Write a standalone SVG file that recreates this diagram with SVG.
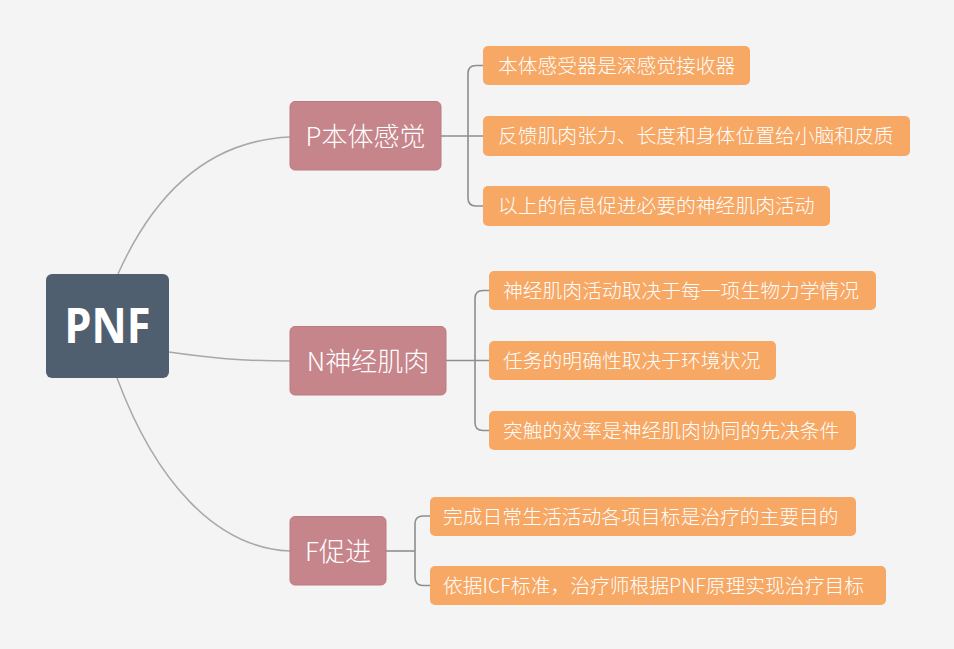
<svg xmlns="http://www.w3.org/2000/svg" width="954" height="649" viewBox="0 0 954 649">
<style>
.bg{fill:#f4f4f4}
.root{fill:#4f5f70}
.main{fill:#c6858b;stroke:#bc7a81;stroke-width:1}
.leaf{fill:#f6a864}
.t{font-family:"Noto Sans CJK SC","Noto Sans",sans-serif;fill:#ffffff;font-weight:300}
.tm{font-size:26px;text-anchor:middle}
.tl{font-size:19.8px}
.curve{fill:none;stroke:#a8a8a8;stroke-width:1.5}
.br{fill:none;stroke:#8e8e8e;stroke-width:1.6}
</style>
<rect class="bg" x="0" y="0" width="954" height="649"/>
<g id="connectors">
<path class="curve" d="M118,274 C160,180 220,140 290,137"/>
<path class="curve" d="M169,352 C210,358 240,361 290,361"/>
<path class="curve" d="M117,378 C155,480 215,548 290,551"/>
<path class="br" d="M441,136 H483"/>
<path class="br" d="M483,65.5 H476 Q468,65.5 468,73.5 V198 Q468,206 476,206 H483"/>
<path class="br" d="M446,360.5 H489"/>
<path class="br" d="M489,290.5 H483 Q475,290.5 475,298.5 V422.5 Q475,430.5 483,430.5 H489"/>
<path class="br" d="M386,551 H415"/>
<path class="br" d="M430,516 H423 Q415,516 415,524 V577 Q415,585.5 423,585.5 H430"/>
</g>
<g id="root">
<rect class="root" x="46" y="274" width="123" height="104" rx="6"/>
<text x="107.5" y="343" font-family="'Noto Sans','DejaVu Sans',sans-serif" font-weight="bold" font-size="48" fill="#ffffff" text-anchor="middle" textLength="86" lengthAdjust="spacingAndGlyphs">PNF</text>
</g>
<g id="p">
<rect class="main" x="290" y="101.5" width="151" height="68.5" rx="5"/>
<text class="t tm" x="365.5" y="145.5">P本体感觉</text>
</g>
<g id="p1"><rect class="leaf" x="483" y="46" width="267" height="39" rx="5"/><text class="t tl" x="498" y="72.5">本体感受器是深感觉接收器</text></g>
<g id="p2"><rect class="leaf" x="483" y="116" width="427" height="40" rx="5"/><text class="t tl" x="498" y="143">反馈肌肉张力、长度和身体位置给小脑和皮质</text></g>
<g id="p3"><rect class="leaf" x="483" y="186" width="347" height="40" rx="5"/><text class="t tl" x="498" y="213">以上的信息促进必要的神经肌肉活动</text></g>
<g id="n">
<rect class="main" x="290" y="326.5" width="156" height="68.5" rx="5"/>
<text class="t tm" x="368" y="370.5">N神经肌肉</text>
</g>
<g id="n1"><rect class="leaf" x="489" y="271" width="387" height="39" rx="5"/><text class="t tl" x="503" y="297.5">神经肌肉活动取决于每一项生物力学情况</text></g>
<g id="n2"><rect class="leaf" x="489" y="341" width="287" height="39" rx="5"/><text class="t tl" x="503" y="367.5">任务的明确性取决于环境状况</text></g>
<g id="n3"><rect class="leaf" x="489" y="411" width="367" height="39" rx="5"/><text class="t tl" x="503" y="437.5">突触的效率是神经肌肉协同的先决条件</text></g>
<g id="f">
<rect class="main" x="290" y="516.5" width="96" height="68.5" rx="5"/>
<text class="t tm" x="338" y="560.5">F促进</text>
</g>
<g id="f1"><rect class="leaf" x="430" y="497" width="426" height="39" rx="5"/><text class="t tl" x="443" y="523.5">完成日常生活活动各项目标是治疗的主要目的</text></g>
<g id="f2"><rect class="leaf" x="430" y="566" width="456" height="39" rx="5"/><text class="t tl" x="443" y="592.5">依据ICF标准，治疗师根据PNF原理实现治疗目标</text></g>
</svg>
